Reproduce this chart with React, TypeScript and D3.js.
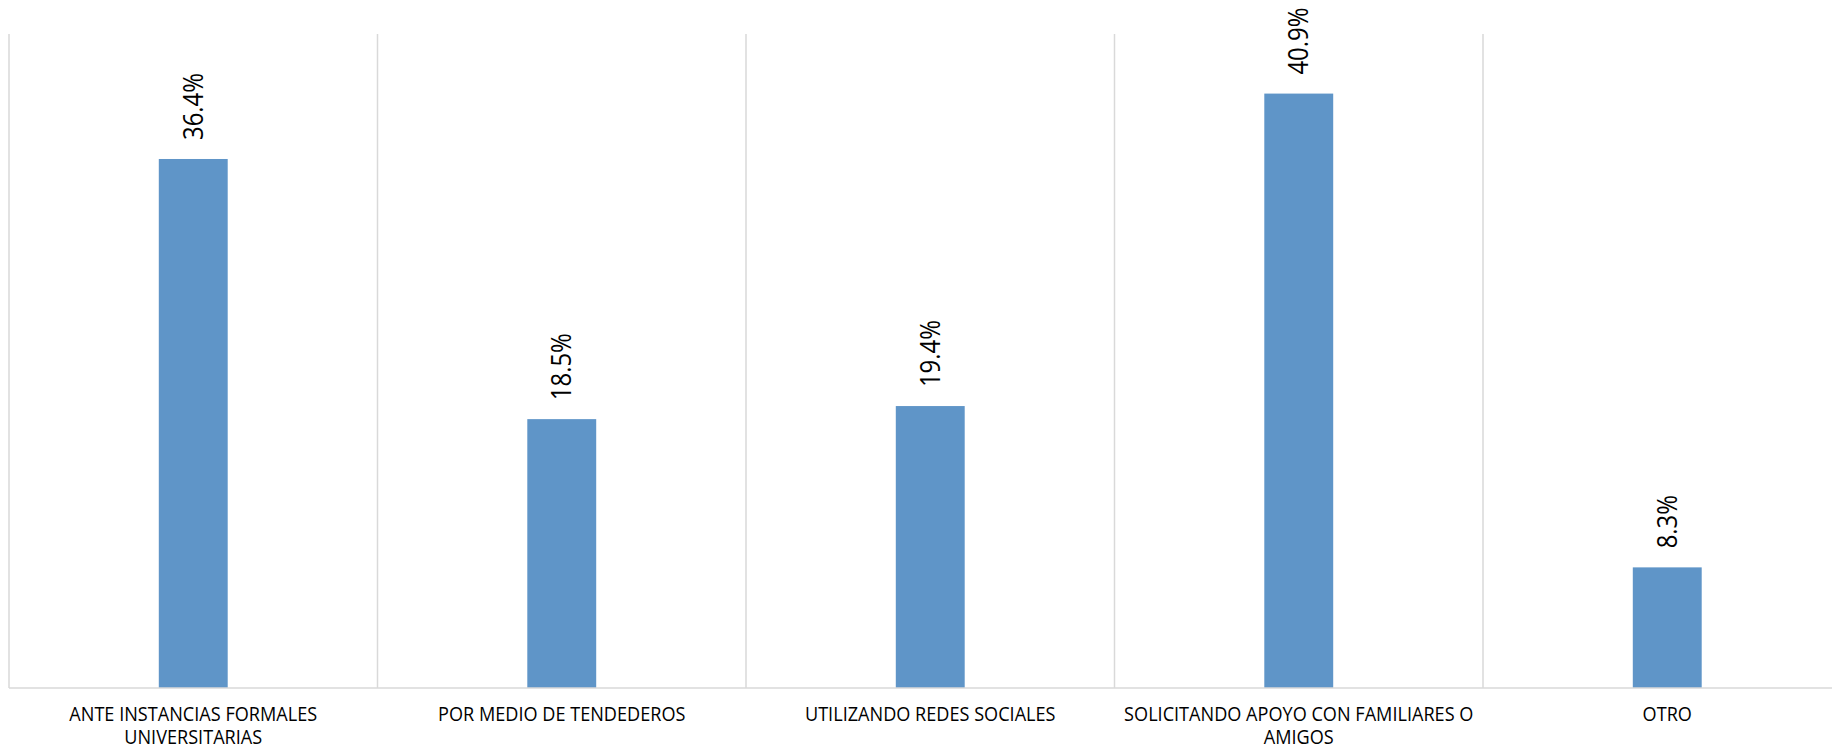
import React from "react";
import * as d3 from "d3";

const categories: string[][] = [
  ["ANTE INSTANCIAS FORMALES", "UNIVERSITARIAS"],
  ["POR MEDIO DE TENDEDEROS"],
  ["UTILIZANDO REDES SOCIALES"],
  ["SOLICITANDO APOYO CON FAMILIARES O", "AMIGOS"],
  ["OTRO"],
];
const values: number[] = [36.4, 18.5, 19.4, 40.9, 8.3];
const yMax = 45;

const W = 1832;
const H = 747;
const left = 9;
const bandW = 368.5;
const top = 34;
const bottom = 688;
const FONT = "'Open Sans', 'Noto Sans', sans-serif";
const GRID = "#d9d9d9";
const BAR = "#5f95c8";

export default function App() {
  const keys = categories.map((c) => c.join(" "));
  const x = d3
    .scaleBand<string>()
    .domain(keys)
    .range([left, left + bandW * keys.length])
    .padding(0);
  const y = d3.scaleLinear().domain([0, yMax]).range([bottom, top]);
  const bw = x.bandwidth();
  const barW = bw * 0.187;
  const edges = d3.range(keys.length + 1).map((i) => left + i * bw);

  return (
    <svg
      width={W}
      height={H}
      style={{ position: "absolute", left: 0, top: 0, background: "#fff" }}
    >
      <rect x={0} y={0} width={W} height={H} fill="#fff" />
      {edges.map((ex, i) => (
        <line key={i} x1={ex} x2={ex} y1={y(yMax)} y2={y(0)} stroke={GRID} strokeWidth={1.5} />
      ))}
      {keys.map((k, i) => {
        const cx = (x(k) as number) + bw / 2;
        const yt = y(values[i]);
        return (
          <g key={k}>
            <rect x={cx - barW / 2} y={yt} width={barW} height={y(0) - yt} fill={BAR} />
            <text
              transform={`translate(${cx},${yt - 19}) rotate(-90) scale(0.885,1)`}
              textAnchor="start"
              dy="0.36em"
              fontFamily={FONT}
              fontSize={27}
              fill="#000"
            >
              {values[i].toFixed(1)}%
            </text>
            {categories[i].map((line, j) => (
              <text
                key={j}
                transform={`translate(${cx},${720.7 + j * 23.3}) scale(0.925,1)`}
                textAnchor="middle"
                fontFamily={FONT}
                fontSize={19.6}
                fill="#000"
              >
                {line}
              </text>
            ))}
          </g>
        );
      })}
      <line x1={left} x2={left + bw * keys.length} y1={y(0)} y2={y(0)} stroke={GRID} strokeWidth={1.5} />
    </svg>
  );
}
